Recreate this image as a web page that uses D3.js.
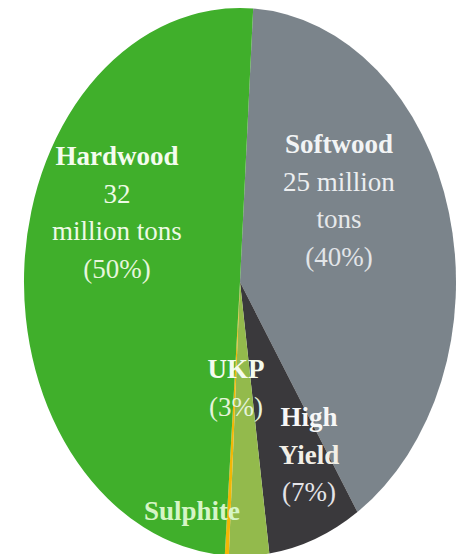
<!DOCTYPE html>
<html>
<head>
<meta charset="utf-8">
<script src="https://cdn.jsdelivr.net/npm/d3@7"></script>
<style>
  html, body { margin: 0; padding: 0; background: #ffffff; }
  svg { display: block; }
  text { font-family: "Liberation Serif", "DejaVu Serif", serif; }
</style>
</head>
<body>
<svg id="chart" width="456" height="554"></svg>
<script>
// Pulp production by grade (share of total, %)
const categories = ["Softwood", "High Yield", "UKP", "Sulphite", "Hardwood"];
const shares     = [40, 7, 3, 0.3, 50];
const tonnes     = [25, null, null, null, 32];   // million tons
const colors     = ["#7b848b", "#3a393c", "#93ba4c", "#f2b705", "#40af2b"];

const W = 456, H = 554;
const cx = 240, cy = 282;     // ellipse centre
const rx = 216, ry = 274;     // horizontal / vertical radii

const svg = d3.select("#chart");

const startDeg = 3.5;
const pie = d3.pie()
  .sort(null)
  .value(d => d.share)
  .startAngle(startDeg * Math.PI / 180)
  .endAngle((startDeg + 360) * Math.PI / 180);

const data = categories.map((c, i) => ({ name: c, share: shares[i], tons: tonnes[i], color: colors[i] }));
const arcs = pie(data);

const arc = d3.arc().innerRadius(0).outerRadius(rx);

// Pie drawn as a circle and stretched vertically into an ellipse
const g = svg.append("g")
  .attr("transform", `translate(${cx},${cy}) scale(1,${ry / rx})`);

g.selectAll("path")
  .data(arcs)
  .join("path")
  .attr("d", arc)
  .attr("fill", d => d.data.color);

// Labels: lines of text per slice
const fmtPct = v => `(${v}%)`;
const labels = [
  { x: 339, y: 153, lines: [
      { t: "Softwood", bold: true, fill: "#f2f4f5" },
      { t: `${tonnes[0]} million`, fill: "#eceef0" },
      { t: "tons", fill: "#e6e8ea" },
      { t: fmtPct(shares[0]), fill: "#e2e5e8" } ] },
  { x: 117, y: 165, lines: [
      { t: "Hardwood", bold: true, fill: "#f4fcee" },
      { t: `${tonnes[4]}`, fill: "#eefae6" },
      { t: "million tons", fill: "#eefae6" },
      { t: fmtPct(shares[4]), fill: "#e6f6dc" } ] },
  { x: 236, y: 378, lines: [
      { t: "UKP", bold: true, fill: "#f4fbee" },
      { t: fmtPct(shares[2]), fill: "#e6f3da" } ] },
  { x: 309, y: 426, lines: [
      { t: "High", bold: true, fill: "#f7f7f7" },
      { t: "Yield", bold: true, fill: "#f2efe6" },
      { t: fmtPct(shares[1]), fill: "#e4e4e8" } ] },
  { x: 192, y: 520, lines: [
      { t: "Sulphite", semibold: true, fill: "#d6f5c6" } ] }
];

const lineH = 37.5;
labels.forEach(l => {
  const t = svg.append("text")
    .attr("text-anchor", "middle")
    .attr("font-size", 27);
  l.lines.forEach((ln, i) => {
    t.append("tspan")
      .attr("x", l.x)
      .attr("y", l.y + i * lineH)
      .attr("font-weight", ln.bold ? 700 : (ln.semibold ? 600 : 400))
      .attr("fill", ln.fill)
      .text(ln.t);
  });
});
</script>
</body>
</html>
